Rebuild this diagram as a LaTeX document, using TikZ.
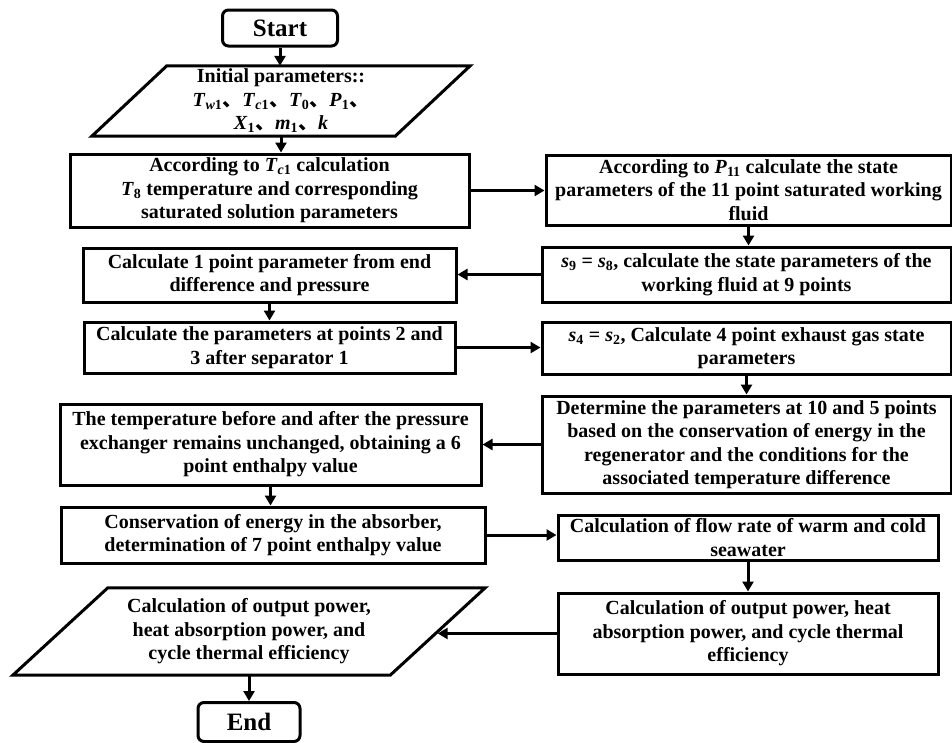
\documentclass[tikz,border=0pt]{standalone}
\usepackage{amsmath}
\usepackage{fontspec}
\setmainfont{Liberation Serif}
\newfontfamily\cjk{Noto Sans CJK SC}
\usepackage{tikz}
\usetikzlibrary{arrows.meta}
\newcommand{\dun}{{\cjk 、}}
\newcommand{\mv}[2]{\textit{#1}\textsubscript{#2}}
\tikzset{
  txt/.style={align=center, inner sep=0pt, font=\bfseries\fontsize{20}{23.5}\selectfont},
  box/.style={txt, draw, line width=3pt},
  term/.style={box, rounded corners=6pt, font=\bfseries\fontsize{25}{28}\selectfont},
  edge/.style={draw, line width=3pt},
  flow/.style={line width=3pt, -{Triangle[length=10pt,width=11pt]}},
}

\begin{document}
\begin{tikzpicture}[x=1pt,y=-1pt]
\useasboundingbox (0,0) rectangle (952,742);

% left column
\node[term, minimum width=115pt, minimum height=36pt] (start) at (280,28) {Start};
\node[txt, minimum width=378pt, minimum height=70pt] (init) at (281,101)
  {Initial parameters::\\ \mv{T}{\textit{w}1}\dun\mv{T}{\textit{c}1}\dun\mv{T}{0}\dun\mv{P}{1}\dun\\ \mv{X}{1}\dun\mv{m}{1}\dun\textit{k}};
\draw[edge] ([xshift=75pt]init.north west) -- (init.north east) -- ([xshift=-75pt]init.south east) -- (init.south west) -- cycle;
\node[box, minimum width=399pt, minimum height=73pt] (calcT) at (269.5,190.5)
  {According to \mv{T}{\textit{c}1} calculation\\ \mv{T}{8} temperature and corresponding\\ saturated solution parameters};
\node[box, minimum width=373pt, minimum height=54pt] (pt1) at (269.5,275)
  {Calculate 1 point parameter from end\\ difference and pressure};
\node[box, minimum width=371pt, minimum height=51pt] (sep) at (269.5,347.5)
  {Calculate the parameters at points 2 and\\ 3 after separator 1};
\node[box, minimum width=421pt, minimum height=81pt] (pt6) at (270.5,444.5)
  {The temperature before and after the pressure\\ exchanger remains unchanged, obtaining a 6\\ point enthalpy value};
\node[box, minimum width=424pt, minimum height=56pt] (pt7) at (273,535)
  {Conservation of energy in the absorber,\\ determination of 7 point enthalpy value};
\node[txt, minimum width=472pt, minimum height=87pt] (out) at (249,631.5)
  {Calculation of output power,\\ heat absorption power, and\\ cycle thermal efficiency};
\draw[edge] ([xshift=95pt]out.north west) -- (out.north east) -- ([xshift=-95pt]out.south east) -- (out.south west) -- cycle;
\coordinate (outR) at ([xshift=-47.5pt]out.east);
\node[term, minimum width=102pt, minimum height=39pt] (end) at (249,722) {End};

% right column
\node[box, minimum width=405pt, minimum height=70pt] (calcP) at (748.5,190)
  {According to \mv{P}{11} calculate the state\\ parameters of the 11 point saturated working\\ fluid};
\node[box, minimum width=409pt, minimum height=55pt] (pt9) at (746.5,274.5)
  {\mv{s}{9} = \mv{s}{8}, calculate the state parameters of the\\ working fluid at 9 points};
\node[box, minimum width=409pt, minimum height=52pt] (pt4) at (746.5,348)
  {\mv{s}{4} = \mv{s}{2}, Calculate 4 point exhaust gas state\\ parameters};
\node[box, minimum width=409pt, minimum height=97pt] (regen) at (746.5,444.5)
  {Determine the parameters at 10 and 5 points\\ based on the conservation of energy in the\\ regenerator and the conditions for the\\ associated temperature difference};
\node[box, minimum width=380pt, minimum height=45pt] (flow) at (748,537.5)
  {Calculation of flow rate of warm and cold\\ seawater};
\node[box, minimum width=380pt, minimum height=81pt] (power) at (748,633.5)
  {Calculation of output power, heat\\ absorption power, and cycle thermal\\ efficiency};

% arrows
\foreach \a/\b in {start/init, init/calcT, calcP/pt9, pt1/sep, pt4/regen, pt6/pt7, flow/power, out/end}
  \draw[flow] (\a.south) -- (\a.south |- \b.north);
\foreach \a/\b in {calcT/calcP, sep/pt4, pt7/flow}
  \draw[flow] (\a.east) -- (\a.east -| \b.west);
\foreach \a/\b in {pt9/pt1, regen/pt6}
  \draw[flow] (\a.west) -- (\a.west -| \b.east);
\draw[flow] (power.west) -- (power.west -| outR);
\end{tikzpicture}
\end{document}
